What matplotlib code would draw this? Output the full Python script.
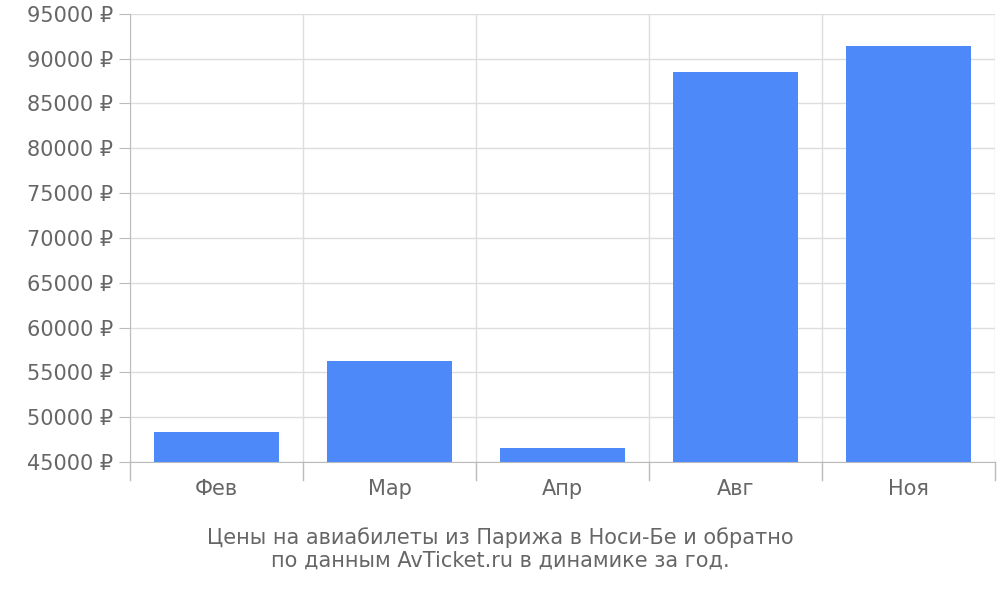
import matplotlib
matplotlib.use("Agg")
import matplotlib.pyplot as plt

categories = ["Фев", "Мар", "Апр", "Авг", "Ноя"]
prices = [48350, 56270, 46560, 88530, 91430]
yticks = list(range(45000, 95001, 5000))

fig = plt.figure(figsize=(10, 6), dpi=100)
ax = fig.add_axes([0.13, 0.23, 0.865, 0.747])
x = range(len(categories))
ax.bar(x, prices, width=0.72, color="#4d89f9", bottom=0, zorder=3)
ax.set_xlim(-0.5, len(categories) - 0.5)
ax.set_ylim(45000, 95000)
ax.set_yticks(yticks)
ax.set_yticklabels([f"{v} ₽" for v in yticks], fontsize=15, color="#666666")
ax.set_xticks([i for i in x])
ax.set_xticklabels(categories, fontsize=15, color="#666666")
for i in range(len(categories) + 1):
    ax.axvline(i - 0.5, color="#dddddd", lw=1, zorder=1)
    ax.plot([i - 0.5, i - 0.5], [45000, 43000], color="#bbbbbb", lw=1, clip_on=False)
ax.grid(axis="y", color="#dddddd", lw=1, zorder=1)
ax.tick_params(axis="x", length=0, pad=12)
ax.tick_params(axis="y", length=8, color="#bbbbbb", pad=4)
for s in ["top", "right"]:
    ax.spines[s].set_visible(False)
ax.spines["left"].set_color("#bbbbbb")
ax.spines["bottom"].set_color("#bbbbbb")
fig.text(0.5, 0.085, "Цены на авиабилеты из Парижа в Носи-Бе и обратно\nпо данным AvTicket.ru в динамике за год.",
         ha="center", va="center", fontsize=15, color="#666666", linespacing=1.2)
fig.savefig("out.png", dpi=100)
